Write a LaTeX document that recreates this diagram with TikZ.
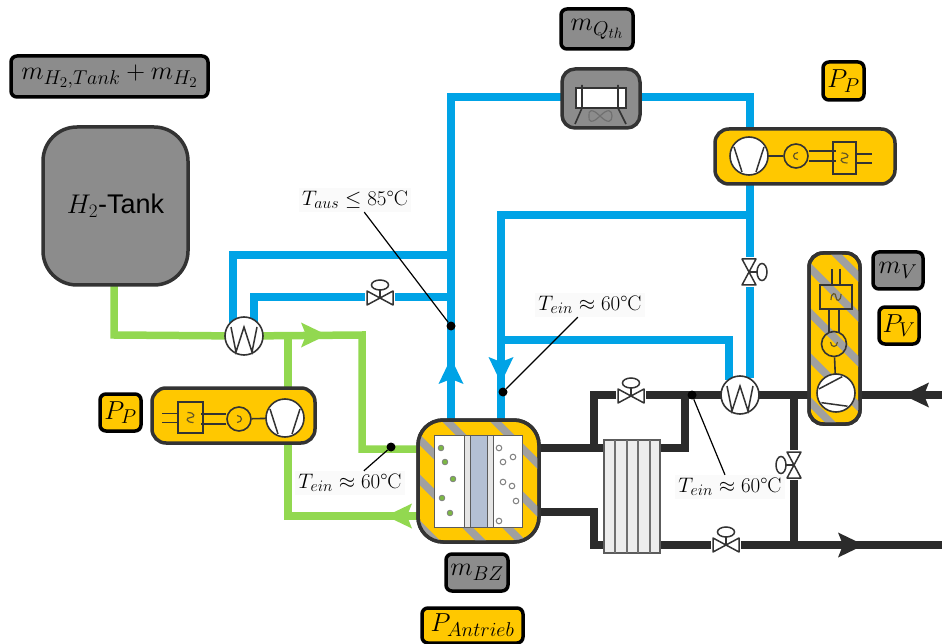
\documentclass[tikz,border=0pt]{standalone}
\usepackage[no-math]{fontspec}
\usepackage{fix-cm}
\usetikzlibrary{calc}
\newfontfamily\tankfont{Liberation Sans}
\DeclareMathSizes{26}{26}{20}{15}
\DeclareMathSizes{27}{27}{19}{14}
\DeclareMathSizes{21}{21}{16}{12}
\definecolor{pblue}{HTML}{00A3E6}
\definecolor{pgreen}{HTML}{92D850}
\definecolor{pblack}{HTML}{2B2B2B}
\definecolor{pyellow}{HTML}{FFC800}
\definecolor{pgrey}{HTML}{8C8C8C}
\definecolor{stripe}{HTML}{A0A0A0}
\definecolor{edge}{HTML}{333333}
\definecolor{coreblue}{HTML}{B4C0D4}
\tikzset{
  bluepipe/.style={draw=pblue,line width=7.5pt,line join=miter},
  greenpipe/.style={draw=pgreen,line width=7.5pt,line join=miter},
  blackpipe/.style={draw=pblack,line width=7.5pt,line join=miter},
  greybox/.style={draw=black,line width=3.5pt,fill=pgrey,rounded corners=6pt},
  yellowbox/.style={draw=black,line width=3.5pt,fill=pyellow,rounded corners=6pt},
  unit/.style={draw=edge,line width=3.5pt,fill=pyellow,rounded corners=14pt},
  sym/.style={draw=edge,line width=1.6pt},
  whitecirc/.style={circle,draw=edge,line width=1.6pt,fill=white,inner sep=0pt,outer sep=0pt},
  callout/.style={fill=white!98!black,inner sep=3pt,font=\fontsize{21}{23}\selectfont},
  leader/.style={draw=black,line width=1.2pt},
  dotmark/.style={circle,fill=black,inner sep=0pt,minimum size=9pt},
  valvesym/.pic={
    \fill[white] (-15,-20) rectangle (15,10);
    \draw[draw=edge,line width=1.5pt,fill=white,line join=round] (-13,-7) -- (13,7) -- (13,-7) -- (-13,7) -- cycle;
    \draw[draw=edge,line width=1.5pt] (0,0) -- (0,-9);
    \draw[draw=edge,line width=1.5pt,fill=white] (0,-13) ellipse [x radius=8.5pt,y radius=5pt];
  },
  hxsym/.pic={
    \draw[draw=edge,line width=1.5pt,line join=miter] (-13,-9) -- (-8,16) -- (0,-9) -- (8,16) -- (13,-9);
  },
  compsym/.pic={
    \draw[draw=edge,line width=1.5pt] (-15,-9) -- (-7,16) (15,-9) -- (7,16);
  },
  wavesym/.pic={
    \draw[draw=edge!75!pyellow,line width=1.2pt] (-3,-5) .. controls (5,-5) and (5,0) .. (0,0) .. controls (-5,0) and (-5,5) .. (3,5);
  },
  motorsym/.pic={
    \draw[draw=edge!75!pyellow,line width=1.2pt] (2,-3.5) .. controls (-4,-3) and (-4,3) .. (2,3.5);
  }
}
% \bx{style}{name}{x1}{y1}{x2}{y2}{text}
\newcommand{\bx}[7]{%
  \pgfmathsetmacro{\bxw}{#5-#3}\pgfmathsetmacro{\bxh}{#6-#4}%
  \pgfmathsetmacro{\bxx}{(#3+#5)/2}\pgfmathsetmacro{\bxy}{(#4+#6)/2}%
  \node[#1,minimum width=\bxw pt,minimum height=\bxh pt,inner sep=0pt,outer sep=0pt] (#2) at (\bxx,\bxy) {#7};}
\newcommand{\flowtip}[4]{\fill[#4,shift={(#1,#2)},rotate=#3] (0,0) -- (-26,-12.5) -- (-21,0) -- (-26,12.5) -- cycle;}
\newcommand{\stripes}[3]{\foreach \dd in {#1} {\draw[stripe,line width=7.5pt] (\dd+#2,#2) -- (\dd+#3,#3);}}
\newcommand{\tlabel}[1]{\fontsize{26}{28}\selectfont$#1$}
\begin{document}
\begin{tikzpicture}[x=1pt,y=-1pt]
\useasboundingbox (0,0) rectangle (942,644);

% pipes first
\coordinate (sbt) at (451,420);
\coordinate (scd) at (501,420);
\coordinate (hxac) at (244,336);
\coordinate (hxbc) at (740,395);
\draw[bluepipe] (sbt) -- (451,97) -- (600,97) -- (750,97) -- (750,378);
\draw[bluepipe] (scd) -- (501,215) -- (750,215);
\draw[bluepipe] (501,340) -- (729,340) -- (729,380);
\draw[bluepipe] (233,325) -- (233,255) -- (451,255);
\draw[bluepipe] (254,325) -- (254,297) -- (451,297);
\draw[greenpipe] (114,285) -- (114,335) -- (hxac);
\draw[greenpipe] (hxac) -- (362,335) -- (362,449) -- (420,449);
\draw[greenpipe] (288,335) -- (288,516) -- (420,516);
\draw[blackpipe] (539,448) -- (604,448);
\draw[blackpipe] (539,512) -- (594,512) -- (594,545) -- (604,545);
\draw[blackpipe] (594,448) -- (594,395) -- (685,395) -- (685,448) -- (660,448);
\draw[blackpipe] (685,395) -- (hxbc);
\draw[blackpipe] (hxbc) -- (809,395);
\draw[blackpipe] (860,395) -- (942,395);
\draw[blackpipe] (794,395) -- (794,545);
\draw[blackpipe] (660,545) -- (942,545);

% units
\bx{draw=edge,line width=3.5pt,fill=pgrey,rounded corners=34pt}{tank}{43}{127}{188}{285}{\fontsize{27}{29}\selectfont$H_2$\tankfont -Tank}
\bx{greybox}{mtank}{11}{56}{208}{97}{\tlabel{m_{H_2,Tank}+m_{H_2}}}
\bx{greybox}{mqth}{561}{9}{633}{49}{\tlabel{m_{Q_{th}}}}
\bx{draw=edge,line width=3.5pt,fill=pgrey,rounded corners=13pt}{cooler}{562}{69}{640}{128}{}
\bx{yellowbox}{pp1}{823}{62}{864}{100}{\tlabel{P_P}}
\bx{yellowbox}{pp2}{100}{394}{141}{431}{\tlabel{P_P}}
\bx{greybox}{mv}{873}{252}{923}{289}{\tlabel{m_V}}
\bx{yellowbox}{pv}{879}{307}{919}{344}{\tlabel{P_V}}
\bx{greybox}{mbz}{446}{554}{508}{591}{\tlabel{m_{BZ}}}
\bx{yellowbox}{pan}{422}{608}{523}{643}{\tlabel{P_{Antrieb}}}
\bx{unit}{pumpa}{715}{129}{895}{184}{}
\bx{unit}{pumpb}{152}{388}{315}{443}{}
\bx{unit}{pumpv}{809}{253}{860}{424}{}
\bx{unit,rounded corners=25pt}{stack}{418}{420}{539}{542}{}
\bx{draw=edge!80,line width=1.5pt,fill=white!93!black}{rad}{604}{440}{660}{553}{}

% hatching of the two striped units
\begin{scope}
  \clip[rounded corners=14pt] (809,253) rectangle (860,424);
  \stripes{582,542,497,452,408}{240}{430}
\end{scope}
\begin{scope}
  \clip[rounded corners=25pt] (418,420) rectangle (539,542);
  \stripes{-106,-60,-20,26,74}{410}{550}
\end{scope}
\draw[draw=edge,line width=3.5pt,rounded corners=14pt] (pumpv.north west) rectangle (pumpv.south east);
\draw[draw=edge,line width=3.5pt,rounded corners=25pt] (stack.north west) rectangle (stack.south east);

% stack interior
\bx{draw=edge!80,line width=1pt,fill=white}{cell}{434}{435}{522}{527}{}
\bx{draw=edge!80,line width=1pt,fill=white!90!black}{memb}{464}{435}{493}{527}{}
\bx{draw=edge!80,line width=1pt,fill=coreblue}{core}{470}{435}{487}{527}{}
\foreach \px/\py in {441/448,445/462,453/479,442/498,450/513}
  \draw[draw=gray,line width=.8pt,fill=pgreen!85!black] (\px,\py) circle (2.8pt);
\foreach \px/\py in {499/448,513/457,503/462,503/482,512/486,516/501,499/521}
  \draw[draw=gray,line width=1pt,fill=white] (\px,\py) circle (2.8pt);

% radiator ribs
\foreach \rx in {615,627,638,650} \draw[draw=edge!70,line width=1.3pt] (\rx,440) -- (\rx,553);

% heat exchangers
\node[whitecirc,minimum size=38pt] (hxa) at (hxac) {};
\node[whitecirc,minimum size=38pt] (hxb) at (hxbc) {};
\pic at (hxa) {hxsym};
\pic at (hxb) {hxsym};

% cooler symbol
\bx{draw=edge,line width=1.5pt,fill=white}{coolbar}{576}{88}{626}{108}{}
\coordinate (cla) at (582,85); \coordinate (clb) at (618,85);
\draw[sym] (cla) -- (582,108) -- (575,124) (clb) -- (618,108) -- (626,124);
\draw[draw=edge!70,line width=1.2pt] (600,116) .. controls (592,108) and (588,110) .. (589,116) .. controls (588,122) and (592,124) .. (600,116) .. controls (608,108) and (612,110) .. (612,116) .. controls (612,122) and (608,124) .. (600,116);

% pump A
\node[whitecirc,minimum size=38pt] (ca) at (749,156) {};
\pic at (ca) {compsym};
\node[circle,sym,minimum size=24pt,inner sep=0pt] (ma) at (796,156) {};
\pic at (ma) {motorsym};
\bx{sym}{ia}{833}{142}{856}{174}{}
\draw[sym] (ca) -- (ma);
\draw[sym] ($(ma.east)+(0,-5)$) -- ++(27,0) ($(ma.east)+(0,5)$) -- ++(27,0);
\draw[sym] ($(ia.east)+(0,-4)$) -- ++(16,0) ($(ia.east)+(0,5)$) -- ++(16,0);
\pic at (ia) {wavesym};

% pump B
\node[whitecirc,minimum size=38pt] (cb) at (285,418) {};
\pic at (cb) {compsym};
\node[circle,sym,minimum size=24pt,inner sep=0pt] (mb) at (239,419) {};
\pic[xscale=-1] at (mb) {motorsym};
\bx{sym}{ib}{178}{402}{203}{433}{}
\draw[sym] (cb) -- (mb);
\draw[sym] ($(mb.west)+(0,-5)$) -- ++(-25,0) ($(mb.west)+(0,5)$) -- ++(-25,0);
\draw[sym] ($(ib.west)+(0,-4)$) -- ++(-16,0) ($(ib.west)+(0,5)$) -- ++(-16,0);
\pic at (ib) {wavesym};

% pump V
\node[whitecirc,minimum size=38pt] (cv) at (836,393) {};
\pic[rotate=-80] at (cv) {compsym};
\node[circle,sym,minimum size=25pt,inner sep=0pt] (mv0) at (834,344) {};
\bx{sym}{iv}{820}{285}{852}{309}{}
\draw[sym] (cv) -- (mv0);
\draw[sym] (829,309) -- (829,333) (839,309) -- (839,333);
\draw[sym] (832,269) -- (832,285) (840,269) -- (840,285);
\pic[rotate=90] at (iv) {wavesym};
\pic[rotate=90] at (mv0) {motorsym};

% valves
\pic at (380,298) {valvesym};
\pic at (631,396) {valvesym};
\pic at (726,545) {valvesym};
\pic[rotate=-90] at (749,272) {valvesym};
\pic[rotate=90] at (794,465) {valvesym};

% labels
\node[callout] (la) at (355,200) {$T_{aus}\leq 85$°C};
\node[callout] (lb) at (590,305) {$T_{ein}\approx 60$°C};
\node[callout] (lc) at (350,483) {$T_{ein}\approx 60$°C};
\node[callout] (ld) at (730,487) {$T_{ein}\approx 60$°C};
\node[dotmark] (da) at (451,326) {};
\node[dotmark] (db) at (503,392) {};
\node[dotmark] (dc) at (391,447) {};
\node[dotmark] (dd) at (692,395) {};
\draw[leader] (la) -- (da);
\draw[leader] (lb) -- (db);
\draw[leader] (lc) -- (dc);
\draw[leader] (ld) -- (dd);

% flow arrows
\flowtip{327}{335}{0}{pgreen}
\flowtip{386}{516}{180}{pgreen}
\flowtip{451}{358}{90}{pblue}
\flowtip{501}{383}{-90}{pblue}
\flowtip{864}{545}{0}{pblack}
\flowtip{903}{395}{180}{pblack}
\end{tikzpicture}
\end{document}
